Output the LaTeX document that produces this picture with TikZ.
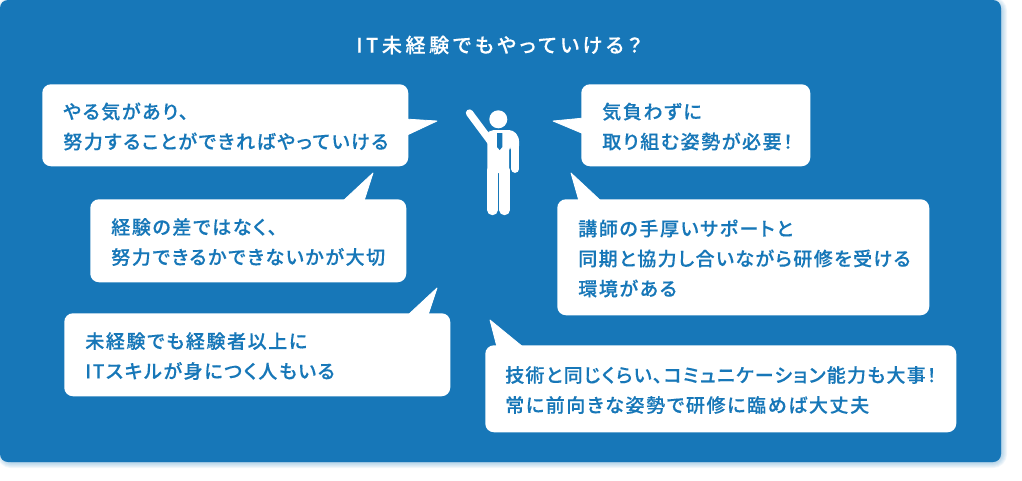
\documentclass[tikz,border=0pt]{standalone}
\usepackage{fontspec}
\setmainfont{Noto Sans CJK JP Medium}[LetterSpace=8.5,FakeBold=0.25,RawFeature={+palt}]
\definecolor{panelblue}{HTML}{1777B8}
\tikzset{
  bubble/.style={fill=white, rounded corners=6.5pt, anchor=north west, inner xsep=15.75pt, inner ysep=0pt,
    align=left, text=panelblue, font=\fontsize{14.25pt}{22.5pt}\selectfont,
    execute at begin node=\rule{0pt}{14pt}},
  tail/.style={fill=white, draw=white, line width=0.6pt, line join=round},
  limb/.style={draw=white, line cap=round}
}
\begin{document}
\begin{tikzpicture}[x=0.75pt,y=-0.75pt]
\useasboundingbox (0,0) rectangle (1022,480);

% Soft shadow of the panel
\foreach \w in {9,7.5,6,4.5,3,1.5}
  \draw[panelblue, opacity=0.06, line width=\w pt, fill, rounded corners=6pt] (3,3) rectangle (1001,462);

% Panel
\fill[panelblue, rounded corners=6pt] (0,0) rectangle (1001,462);

% Title
\node[text=white, font=\fontsize{15pt}{18pt}\selectfont\addfontfeature{LetterSpace=18}] (title) at (499,45) {IT未経験でもやっていける？};

% Tails, each one pointing at the man
\fill[tail] (405,119) -- (437,121) -- (405,136) -- cycle;
\fill[tail] (343,201) -- (373,173) -- (364,201) -- cycle;
\fill[tail] (408,315) -- (437,288) -- (428,315) -- cycle;
\fill[tail] (584,118) -- (553,121) -- (584,134) -- cycle;
\fill[tail] (579,201) -- (571,173) -- (601,201) -- cycle;
\fill[tail] (497,347) -- (490,320) -- (523,347) -- cycle;

% Speech bubbles
\node[bubble, text width=243pt, minimum height=61.5pt] (enthusiasm) at (42,84)
  {やる気があり、\\努力することができればやっていける};
\node[bubble, text width=205.5pt, minimum height=62.25pt] (effort) at (90,199)
  {経験の差ではなく、\\努力できるかできないかが大切};
\node[bubble, text width=258pt, minimum height=62.25pt] (skills) at (64,313)
  {未経験でも経験者以上に\\ITスキルが身につく人もいる};
\node[bubble, text width=140.25pt, minimum height=61.5pt] (attitude) at (581,84)
  {気負わずに\\取り組む姿勢が必要！};
\node[bubble, text width=247.5pt, minimum height=87pt] (support) at (557,199)
  {講師の手厚いサポートと\\{\addfontfeature{LetterSpace=7.5}同期と協力し合いながら研修を受ける}\\環境がある};
\node[bubble, text width=323.25pt, inner xsep=15pt, minimum height=65.25pt] (talk) at (485,345)
  {{\addfontfeature{LetterSpace=6.5}技術と同じくらい、コミュニケーション能力も大事！}\\常に前向きな姿勢で研修に臨めば大丈夫};

% The man with a raised arm
\fill[white] (498.3,119.3) circle (6.75pt);
\draw[limb, line width=5.5pt] (469.5,113) -- (491,142);
\fill[white, rounded corners=3pt] (487.3,173) -- (487.3,134) -- (490,130) -- (513,130) -- (519,137) -- (519,150) -- (511.3,150)
  -- (509.2,146) -- (509.2,173) -- cycle;
\draw[limb, line width=5.8pt] (515.2,140) -- (515.2,169);
\draw[limb, line width=7.8pt] (492.5,170) -- (492.5,210);
\draw[limb, line width=7.8pt] (504.6,170) -- (504.6,210);
\fill[panelblue] (497,133) -- (502.3,133) -- (502.3,147) -- (499.7,150) -- (497,147) -- cycle;

\end{tikzpicture}
\end{document}
